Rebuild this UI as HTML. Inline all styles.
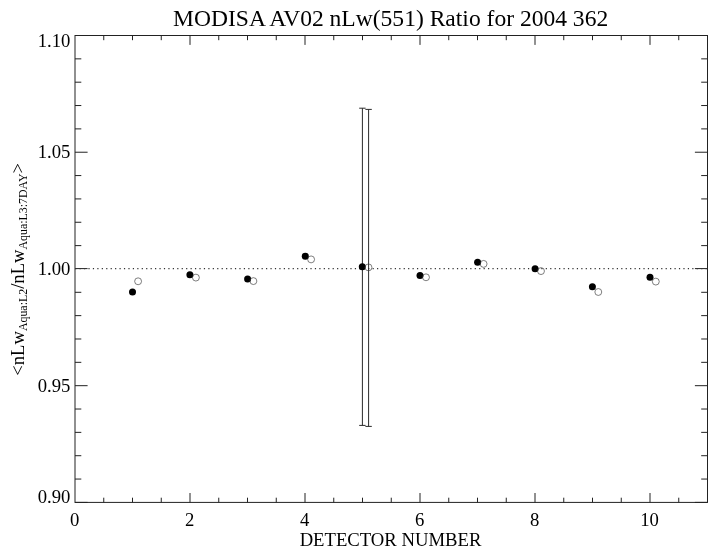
<!DOCTYPE html>
<html><head><meta charset="utf-8"><title>MODISA AV02 nLw(551) Ratio for 2004 362</title>
<style>
html,body{margin:0;padding:0;background:#fff;}
body{width:718px;height:556px;overflow:hidden;}
svg{display:block;font-family:"Liberation Serif","Times New Roman",serif;fill:#000;}
</style></head><body>
<svg width="718" height="556" viewBox="0 0 718 556">
<rect width="718" height="556" fill="#fff"/>

<text id="title" transform="translate(390.60 25.90) scale(1 1.0)" font-size="23.55" text-anchor="middle">MODISA AV02 nLw(551) Ratio for 2004 362</text>
<g stroke="#222" stroke-width="1" fill="none">
<rect x="75.0" y="35.5" width="632.5" height="466.90"/>
<path d="M103.75 502.4v-4.7M103.75 35.5v4.7M132.50 502.4v-4.7M132.50 35.5v4.7M161.25 502.4v-4.7M161.25 35.5v4.7M190.00 502.4v-9.4M190.00 35.5v9.4M218.75 502.4v-4.7M218.75 35.5v4.7M247.50 502.4v-4.7M247.50 35.5v4.7M276.25 502.4v-4.7M276.25 35.5v4.7M305.00 502.4v-9.4M305.00 35.5v9.4M333.75 502.4v-4.7M333.75 35.5v4.7M362.50 502.4v-4.7M362.50 35.5v4.7M391.25 502.4v-4.7M391.25 35.5v4.7M420.00 502.4v-9.4M420.00 35.5v9.4M448.75 502.4v-4.7M448.75 35.5v4.7M477.50 502.4v-4.7M477.50 35.5v4.7M506.25 502.4v-4.7M506.25 35.5v4.7M535.00 502.4v-9.4M535.00 35.5v9.4M563.75 502.4v-4.7M563.75 35.5v4.7M592.50 502.4v-4.7M592.50 35.5v4.7M621.25 502.4v-4.7M621.25 35.5v4.7M650.00 502.4v-9.4M650.00 35.5v9.4M678.75 502.4v-4.7M678.75 35.5v4.7M75.0 502.40h12.6M707.5 502.40h-12.6M75.0 479.06h6.3M707.5 479.06h-6.3M75.0 455.71h6.3M707.5 455.71h-6.3M75.0 432.37h6.3M707.5 432.37h-6.3M75.0 409.02h6.3M707.5 409.02h-6.3M75.0 385.68h12.6M707.5 385.68h-12.6M75.0 362.33h6.3M707.5 362.33h-6.3M75.0 338.99h6.3M707.5 338.99h-6.3M75.0 315.64h6.3M707.5 315.64h-6.3M75.0 292.30h6.3M707.5 292.30h-6.3M75.0 268.60h12.6M707.5 268.60h-12.6M75.0 245.61h6.3M707.5 245.61h-6.3M75.0 222.26h6.3M707.5 222.26h-6.3M75.0 198.92h6.3M707.5 198.92h-6.3M75.0 175.57h6.3M707.5 175.57h-6.3M75.0 152.23h12.6M707.5 152.23h-12.6M75.0 128.88h6.3M707.5 128.88h-6.3M75.0 105.54h6.3M707.5 105.54h-6.3M75.0 82.19h6.3M707.5 82.19h-6.3M75.0 58.85h6.3M707.5 58.85h-6.3M75.0 35.50h12.6M707.5 35.50h-12.6"/>
</g>
<line x1="75.1" y1="268.6" x2="707.5" y2="268.6" stroke="#333" stroke-width="1.1" stroke-dasharray="1.2 3.24"/>
<g stroke="#2a2a2a" stroke-width="1" fill="none">
<path d="M362.4 108.2V425.4M359.2 108.2h6.4M359.2 425.4h6.4"/>
<path d="M368.6 109.4V426.4M365.4 109.4h6.4M365.4 426.4h6.4"/>
</g>
<g fill="#000"><circle cx="132.5" cy="292.1" r="3.5"/><circle cx="189.9" cy="274.8" r="3.5"/><circle cx="247.6" cy="279.1" r="3.5"/><circle cx="305.3" cy="256.2" r="3.5"/><circle cx="362.3" cy="266.8" r="3.5"/><circle cx="420" cy="275.5" r="3.5"/><circle cx="477.6" cy="262.2" r="3.5"/><circle cx="535.1" cy="268.8" r="3.5"/><circle cx="592.4" cy="286.7" r="3.5"/><circle cx="650" cy="277.3" r="3.5"/></g>
<g fill="none" stroke="#3a3a3a" stroke-width="0.65"><circle cx="138.1" cy="281.3" r="3.45"/><circle cx="195.9" cy="277.6" r="3.45"/><circle cx="253.4" cy="281.1" r="3.45"/><circle cx="311.1" cy="259.4" r="3.45"/><circle cx="368.5" cy="267.4" r="3.45"/><circle cx="426" cy="277.3" r="3.45"/><circle cx="483.6" cy="263.9" r="3.45"/><circle cx="541" cy="271.1" r="3.45"/><circle cx="598.3" cy="292" r="3.45"/><circle cx="655.8" cy="281.6" r="3.45"/></g>
<text transform="translate(74.60 525.50) scale(1 1.04)" font-size="18.7" text-anchor="middle">0</text>
<text transform="translate(189.60 525.50) scale(1 1.04)" font-size="18.7" text-anchor="middle">2</text>
<text transform="translate(304.60 525.50) scale(1 1.04)" font-size="18.7" text-anchor="middle">4</text>
<text transform="translate(419.60 525.50) scale(1 1.04)" font-size="18.7" text-anchor="middle">6</text>
<text transform="translate(534.60 525.50) scale(1 1.04)" font-size="18.7" text-anchor="middle">8</text>
<text transform="translate(649.60 525.50) scale(1 1.04)" font-size="18.7" text-anchor="middle">10</text>
<text id="xt" transform="translate(390.50 546.00) scale(1 1.0)" font-size="18.68" text-anchor="middle">DETECTOR NUMBER</text>
<text transform="translate(70.40 46.60) scale(1 1.05)" font-size="18.7" text-anchor="end">1.10</text>
<text transform="translate(70.40 158.40) scale(1 1.05)" font-size="18.7" text-anchor="end">1.05</text>
<text transform="translate(70.40 275.20) scale(1 1.05)" font-size="18.7" text-anchor="end">1.00</text>
<text transform="translate(70.40 391.80) scale(1 1.05)" font-size="18.7" text-anchor="end">0.95</text>
<text transform="translate(70.40 502.60) scale(1 1.05)" font-size="18.7" text-anchor="end">0.90</text>
<text id="yt" transform="translate(23.50 269.30) rotate(-90) scale(1 1.0)" font-size="18.6" text-anchor="middle">&lt;nLw<tspan font-size="11.9" dy="3.6">Aqua:L2</tspan><tspan dy="-3.6">/nLw</tspan><tspan font-size="11.9" dy="3.6">Aqua:L3:7DAY</tspan><tspan dy="-3.6">&gt;</tspan></text>
</svg></body></html>
